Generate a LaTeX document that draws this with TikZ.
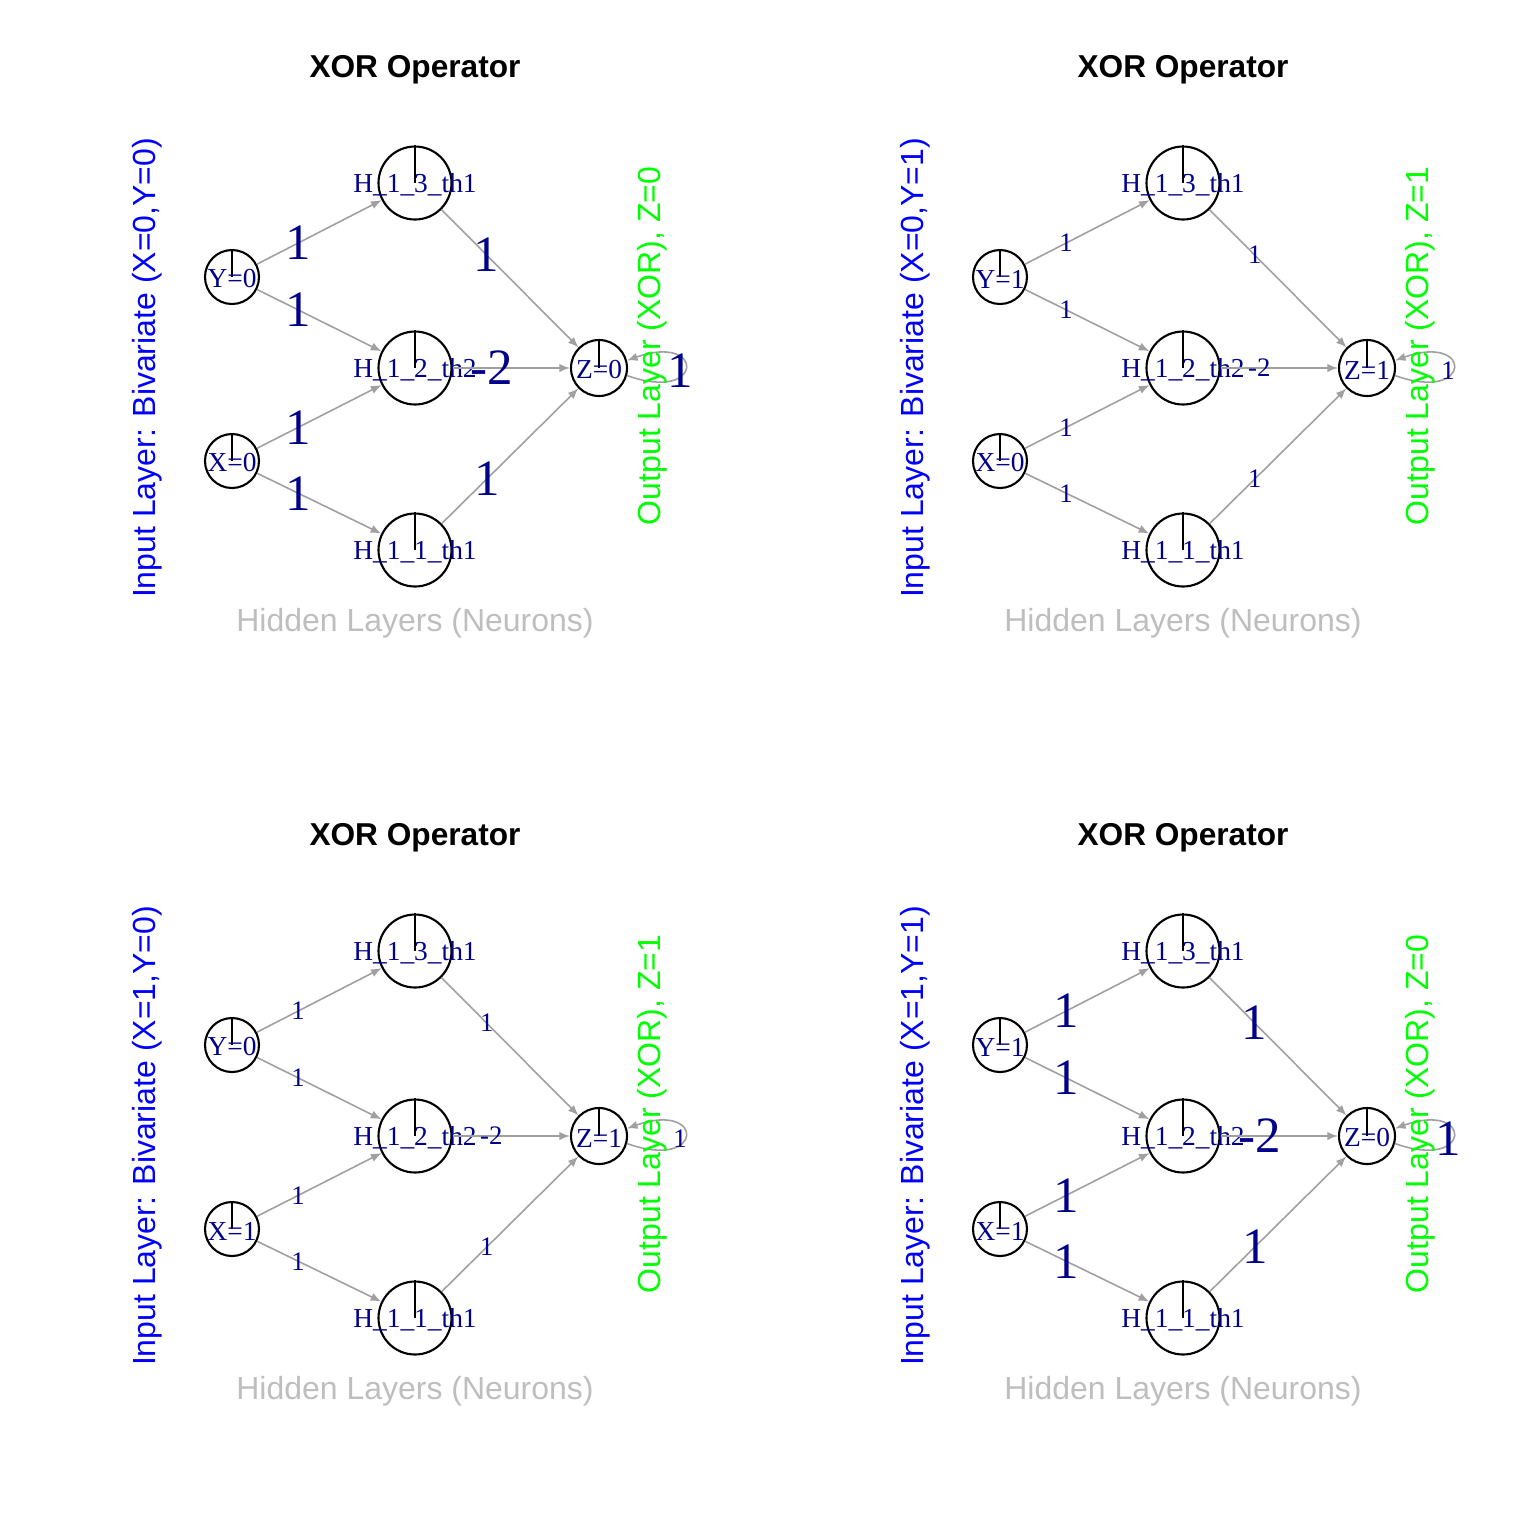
\documentclass[tikz,border=0pt]{standalone}
\usepackage{fontspec}
\setmainfont{Liberation Serif}
\setsansfont{Liberation Sans}
\usetikzlibrary{arrows.meta}
\definecolor{wtblue}{RGB}{0,0,139}
\definecolor{inblue}{RGB}{0,0,255}
\definecolor{outgreen}{RGB}{0,255,0}
\definecolor{hidgray}{RGB}{190,190,190}
\definecolor{edgegray}{RGB}{160,160,160}

\begin{document}
\begin{tikzpicture}[x=0.1mm, y=0.1mm]
\tikzstyle{inneuron} = [circle, draw, line width=0.6pt, minimum size=5.4mm, inner sep=0]
\tikzstyle{hidneuron} = [circle, draw, line width=0.6pt, minimum size=7.3mm, inner sep=0]
\tikzstyle{outneuron} = [circle, draw, line width=0.6pt, minimum size=5.6mm, inner sep=0]
\tikzstyle{nlabel} = [inner sep=0, text=wtblue, font=\fontsize{7.8}{9}\selectfont, yshift=-0.2mm]
\tikzstyle{wtbig} = [inner sep=0, text=wtblue, font=\fontsize{14.5}{16}\selectfont]
\tikzstyle{wtsmall} = [inner sep=0, text=wtblue, font=\fontsize{7.6}{9}\selectfont]
\tikzstyle{edge} = [edgegray, line width=0.45pt, -{Latex[length=3pt, width=2.4pt]}]
\tikzstyle{title} = [font=\fontsize{9.0}{11}\selectfont\sffamily\bfseries]
\tikzstyle{sidetext} = [inner sep=0, font=\fontsize{9.1}{11}\selectfont\sffamily]
\useasboundingbox (0,0) rectangle (1536,-1536);
\foreach \px/\py/\xv/\yv/\zv/\wt/\n in {0/0/0/0/0/wtbig/a, 768/0/0/1/1/wtsmall/b, 0/768/1/0/1/wtsmall/c, 768/768/1/1/0/wtbig/d} {
  \begin{scope}[shift={(\px,-\py)}]
    \node[title] (T\n) at (415,-70) {XOR Operator};
    % neurons
    \node[inneuron] (Y\n) at (232,-277) {};
    \node[inneuron] (X\n) at (232,-461) {};
    \node[hidneuron] (Hc\n) at (415,-183) {};
    \node[hidneuron] (Hb\n) at (415,-368) {};
    \node[hidneuron] (Ha\n) at (415,-550) {};
    \node[outneuron] (Z\n) at (599,-368) {};
    \foreach \m in {Y\n, X\n, Hc\n, Hb\n, Ha\n, Z\n} {
      \draw[line width=0.6pt] (\m.north) -- (\m.center);
    }
    \node[nlabel] at (Y\n) {Y=\yv};
    \node[nlabel] at (X\n) {X=\xv};
    \node[nlabel] at (Hc\n) {H\_1\_3\_th1};
    \node[nlabel] at (Hb\n) {H\_1\_2\_th2};
    \node[nlabel] at (Ha\n) {H\_1\_1\_th1};
    \node[nlabel] at (Z\n) {Z=\zv};
    % connections
    \draw[edge] (Y\n) -- node[\wt, pos=0.33] {1} (Hc\n);
    \draw[edge] (Y\n) -- node[\wt, pos=0.33] {1} (Hb\n);
    \draw[edge] (X\n) -- node[\wt, pos=0.33] {1} (Hb\n);
    \draw[edge] (X\n) -- node[\wt, pos=0.33] {1} (Ha\n);
    \draw[edge] (Hc\n) -- node[\wt, pos=0.33] {1} (Z\n);
    \draw[edge] (Hb\n) -- node[\wt, pos=0.33] {-2} (Z\n);
    \draw[edge] (Ha\n) -- node[\wt, pos=0.33] {1} (Z\n);
    \draw[edge] (Z\n.-15) .. controls +(78,-28) and +(78,28) .. (Z\n.15);
    \node[\wt] (L\n) at ([shift={(81,-3)}]Z\n.center) {1};
    % layer texts
    \node[sidetext, text=inblue, rotate=90] (I\n) at (147,-368) {Input Layer: Bivariate (X=\xv,Y=\yv)};
    \node[sidetext, text=outgreen, rotate=90] (O\n) at (652,-346) {Output Layer (XOR), Z=\zv};
    \node[sidetext, text=hidgray] (N\n) at (415,-623) {Hidden Layers (Neurons)};
  \end{scope}
}
\end{tikzpicture}
\end{document}
